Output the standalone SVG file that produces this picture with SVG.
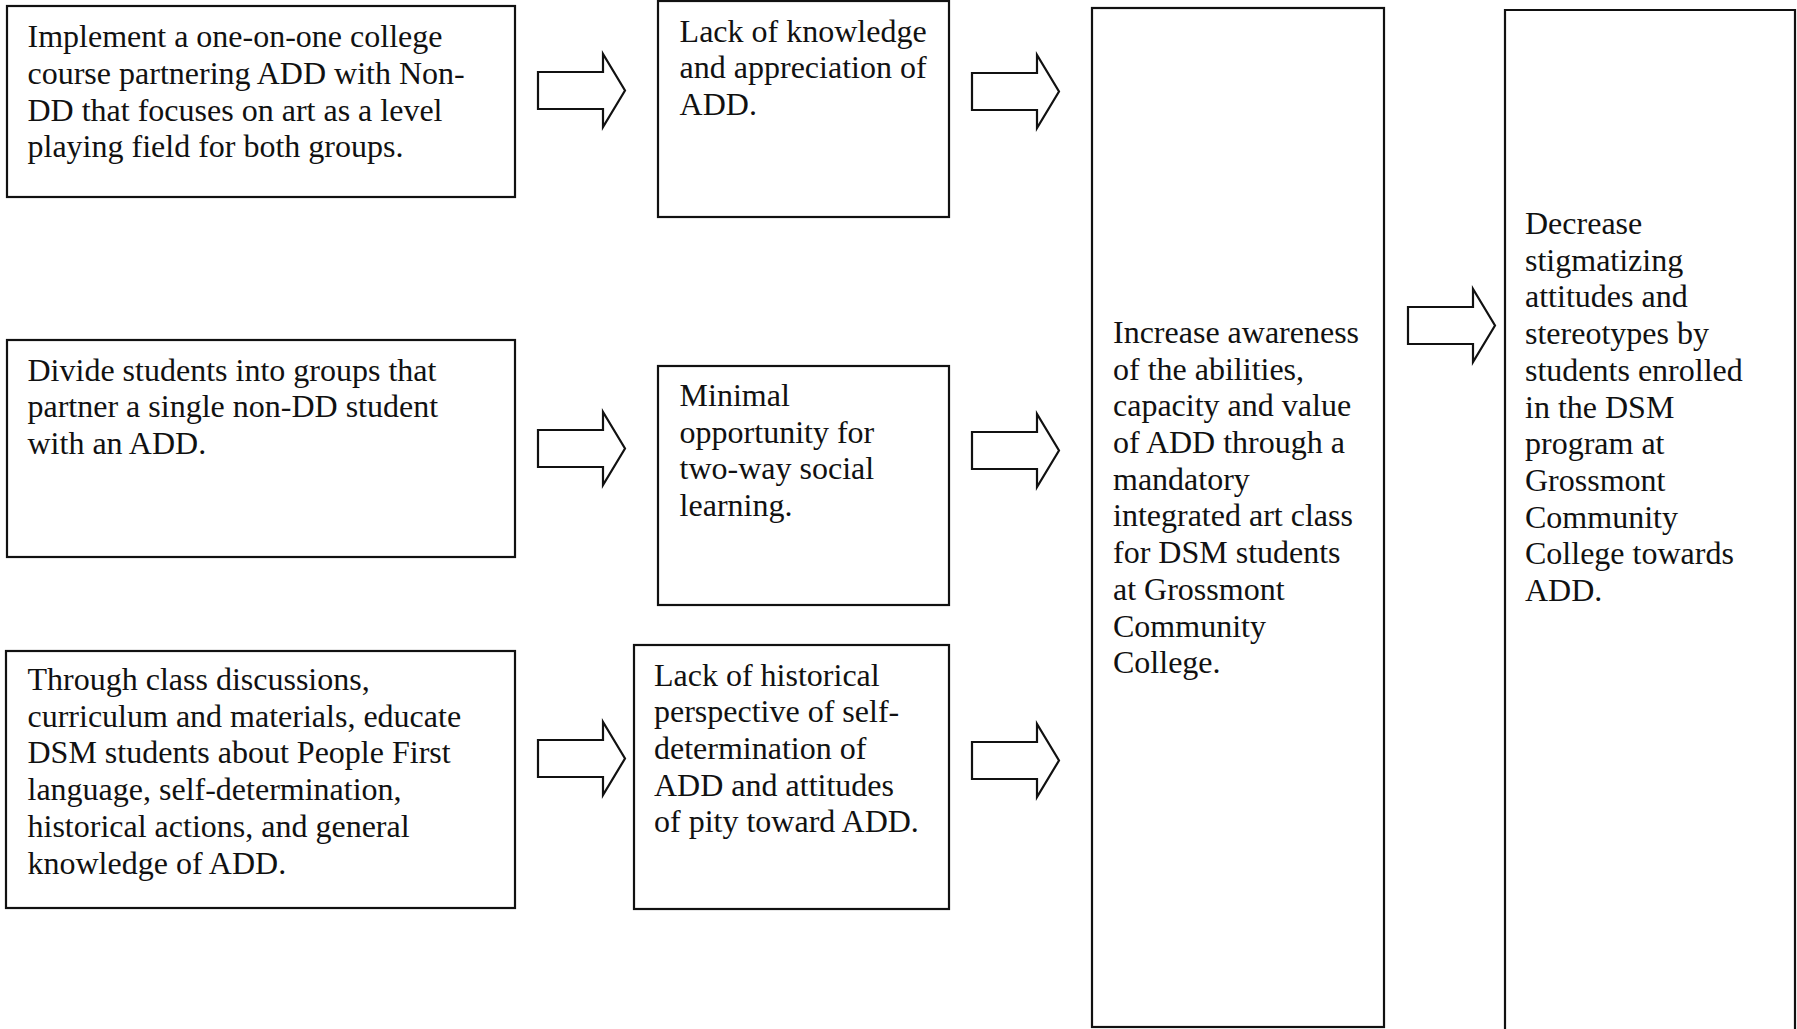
<svg xmlns="http://www.w3.org/2000/svg" xmlns:xlink="http://www.w3.org/1999/xlink" width="1797" height="1029" viewBox="0 0 1797 1029">
<style>
.box{fill:#fff;stroke:#111;stroke-width:2.2}
.arr{fill:#fff;stroke:#111;stroke-width:2.2;stroke-linejoin:miter}
text{font-family:"Liberation Serif","Times New Roman",serif;font-size:32px;fill:#111}
</style>
<defs>
<polygon id="barrow" class="arr" points="0,18 65,18 65,0 87,36.5 65,73 65,55 0,55"/>
</defs>
<rect width="1797" height="1029" fill="#fff"/>
<g id="connectors">
<use xlink:href="#barrow" transform="translate(538,54)"/>
<use xlink:href="#barrow" transform="translate(972,55)"/>
<use xlink:href="#barrow" transform="translate(538,412)"/>
<use xlink:href="#barrow" transform="translate(972,414)"/>
<use xlink:href="#barrow" transform="translate(538,722)"/>
<use xlink:href="#barrow" transform="translate(972,724)"/>
<use xlink:href="#barrow" transform="translate(1408,289)"/>
</g>
<g id="n1">
<rect class="box" x="7" y="6" width="508" height="191"/>
<text x="27.5" y="47.2">
<tspan x="27.5">Implement a one-on-one college</tspan>
<tspan x="27.5" dy="36.7">course partnering ADD with Non-</tspan>
<tspan x="27.5" dy="36.7">DD that focuses on art as a level</tspan>
<tspan x="27.5" dy="36.7">playing field for both groups.</tspan>
</text>
</g>
<g id="n2">
<rect class="box" x="658" y="1" width="291" height="216"/>
<text x="679.6" y="41.5">
<tspan x="679.6">Lack of knowledge</tspan>
<tspan x="679.6" dy="36.7">and appreciation of</tspan>
<tspan x="679.6" dy="36.7">ADD.</tspan>
</text>
</g>
<g id="n3">
<rect class="box" x="1092" y="8" width="292" height="1019"/>
<text x="1113" y="342.9">
<tspan x="1113">Increase awareness</tspan>
<tspan x="1113" dy="36.7">of the abilities,</tspan>
<tspan x="1113" dy="36.7">capacity and value</tspan>
<tspan x="1113" dy="36.7">of ADD through a</tspan>
<tspan x="1113" dy="36.7">mandatory</tspan>
<tspan x="1113" dy="36.7">integrated art class</tspan>
<tspan x="1113" dy="36.7">for DSM students</tspan>
<tspan x="1113" dy="36.7">at Grossmont</tspan>
<tspan x="1113" dy="36.7">Community</tspan>
<tspan x="1113" dy="36.7">College.</tspan>
</text>
</g>
<g id="n4">
<path class="box" d="M1505,1030 V10 H1795 V1030"/>
<text x="1525" y="234">
<tspan x="1525">Decrease</tspan>
<tspan x="1525" dy="36.7">stigmatizing</tspan>
<tspan x="1525" dy="36.7">attitudes and</tspan>
<tspan x="1525" dy="36.7">stereotypes by</tspan>
<tspan x="1525" dy="36.7">students enrolled</tspan>
<tspan x="1525" dy="36.7">in the DSM</tspan>
<tspan x="1525" dy="36.7">program at</tspan>
<tspan x="1525" dy="36.7">Grossmont</tspan>
<tspan x="1525" dy="36.7">Community</tspan>
<tspan x="1525" dy="36.7">College towards</tspan>
<tspan x="1525" dy="36.7">ADD.</tspan>
</text>
</g>
<g id="n5">
<rect class="box" x="7" y="340" width="508" height="217"/>
<text x="27.5" y="380.5">
<tspan x="27.5">Divide students into groups that</tspan>
<tspan x="27.5" dy="36.7">partner a single non-DD student</tspan>
<tspan x="27.5" dy="36.7">with an ADD.</tspan>
</text>
</g>
<g id="n6">
<rect class="box" x="658" y="366" width="291" height="239"/>
<text x="679.6" y="406">
<tspan x="679.6">Minimal</tspan>
<tspan x="679.6" dy="36.7">opportunity for</tspan>
<tspan x="679.6" dy="36.7">two-way social</tspan>
<tspan x="679.6" dy="36.7">learning.</tspan>
</text>
</g>
<g id="n7">
<rect class="box" x="6" y="651" width="509" height="257"/>
<text x="27.5" y="690">
<tspan x="27.5">Through class discussions,</tspan>
<tspan x="27.5" dy="36.7">curriculum and materials, educate</tspan>
<tspan x="27.5" dy="36.7">DSM students about People First</tspan>
<tspan x="27.5" dy="36.7">language, self-determination,</tspan>
<tspan x="27.5" dy="36.7">historical actions, and general</tspan>
<tspan x="27.5" dy="36.7">knowledge of ADD.</tspan>
</text>
</g>
<g id="n8">
<rect class="box" x="634" y="645" width="315" height="264"/>
<text x="654" y="685.5">
<tspan x="654">Lack of historical</tspan>
<tspan x="654" dy="36.7">perspective of self-</tspan>
<tspan x="654" dy="36.7">determination of</tspan>
<tspan x="654" dy="36.7">ADD and attitudes</tspan>
<tspan x="654" dy="36.7">of pity toward ADD.</tspan>
</text>
</g>
</svg>
